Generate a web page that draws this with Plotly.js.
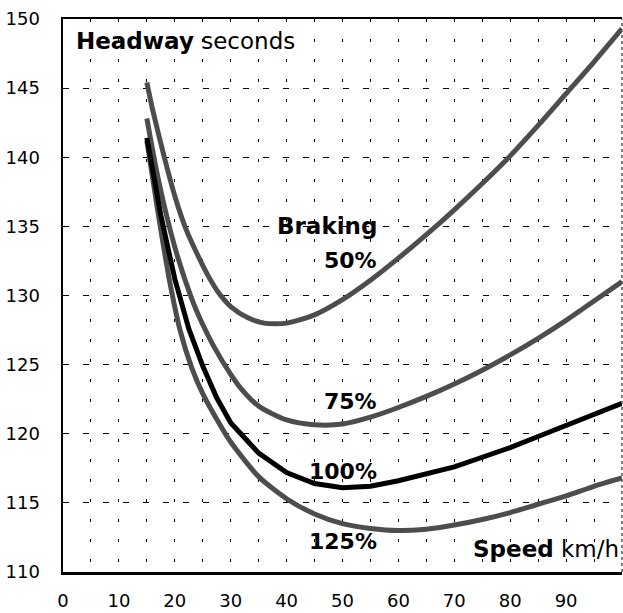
<!DOCTYPE html>
<html>
<head>
<meta charset="utf-8">
<script src="https://cdn.plot.ly/plotly-3.0.1.min.js"></script>
<style>html,body{margin:0;padding:0;background:#fff;}#chart{width:623px;height:613px;}</style>
</head>
<body>
<div id="chart"></div>
<script>
// Speed (km/h) and headway (seconds) for each braking rate
const speed50  = [15,16,18,20,22,24,26,28,30,33,36,40,45,50,55,60,65,70,75,80,85,90,95,100];
const head50   = [145.4,143.5,140.2,137.2,134.8,133.0,131.4,130.1,129.2,128.4,128.0,128.0,128.6,129.7,131.1,132.7,134.4,136.2,138.1,140.1,142.3,144.6,146.9,149.3];

const speed75  = [15,17,20,23,25,27,30,32,35,40,45,50,55,60,65,70,75,80,85,90,95,100];
const head75   = [142.8,138.5,133.5,129.8,127.9,126.3,124.3,123.2,122.0,121.0,120.65,120.7,121.2,121.9,122.7,123.6,124.6,125.7,126.9,128.2,129.6,131.0];

const speed100 = [15,17.5,20,22.5,25,27.5,30,35,40,45,50,55,60,65,70,75,80,85,90,95,100];
const head100  = [141.4,135.8,131.2,127.6,124.9,122.6,120.8,118.6,117.2,116.4,116.1,116.2,116.6,117.1,117.6,118.3,119.0,119.8,120.6,121.4,122.2];

const speed125 = [15,17,19,21,23,25,28,30,35,40,45,50,55,60,65,70,75,80,85,90,95,100];
const head125  = [141.2,136.0,131.2,127.4,124.8,122.9,120.7,119.4,116.9,115.3,114.2,113.5,113.15,113.0,113.1,113.4,113.8,114.3,114.9,115.5,116.2,116.8];

const xTickVals = [0,10,20,30,40,50,60,70,80,90];
const xTickText = ['0','10','20','30','40','50','60','70','80','90'];
const yTickVals = [110,115,120,125,130,135,140,145,150];
const yTickText = ['110','115','120','125','130','135','140','145','150'];

const curveLabels = ['50%','75%','100%','125%'];

const grey = '#4d4d4d';
const traces = [
  {x: speed50,  y: head50,  mode:'lines', line:{color:grey, width:5, shape:'spline', smoothing:0.7}, name: curveLabels[0]},
  {x: speed75,  y: head75,  mode:'lines', line:{color:grey, width:5, shape:'spline', smoothing:0.7}, name: curveLabels[1]},
  {x: speed125, y: head125, mode:'lines', line:{color:grey, width:5, shape:'spline', smoothing:0.7}, name: curveLabels[3]},
  {x: speed100, y: head100, mode:'lines', line:{color:'#000', width:5}, name: curveLabels[2]}
];

const F = 'DejaVu Sans, Arial, sans-serif';
const ann = (x, y, text, xanchor, size) => ({
  x: x, y: y, xref:'x', yref:'y', text: text, showarrow:false,
  xanchor: xanchor, yanchor:'middle', font:{family:F, size:size, color:'#000'}
});

const layout = {
  width: 623, height: 613,
  margin: {l:63, r:1, t:19, b:41, pad:0},
  paper_bgcolor:'#fff', plot_bgcolor:'#fff',
  showlegend:false,
  font:{family:F, color:'#000'},
  xaxis: {
    range:[0,100], tickvals:xTickVals, ticktext:xTickText,
    showgrid:true, gridcolor:'#000', gridwidth:1, griddash:'3px,17px',
    minor:{dtick:5, tick0:0, showgrid:true, gridcolor:'#000', gridwidth:1, griddash:'3px,17px'},
    showline:true, linecolor:'#000', linewidth:2.5, mirror:true,
    ticks:'', ticklabelstandoff:11, zeroline:false, automargin:false,
    tickfont:{family:F, size:18, color:'#000'}
  },
  yaxis: {
    range:[110,150], tickvals:yTickVals, ticktext:yTickText,
    showgrid:true, gridcolor:'#000', gridwidth:1, griddash:'6px,14px',
    showline:true, linecolor:'#000', linewidth:2.5, mirror:false,
    ticks:'', ticklabelstandoff:17, zeroline:false, automargin:false,
    tickfont:{family:F, size:18, color:'#000'}
  },
  shapes: [
    {type:'line', xref:'paper', yref:'paper', x0:1, x1:1, y0:0, y1:1, line:{color:'#555', width:1.5, dash:'dot'}}
  ],
  annotations: [
    ann(1.9, 148.4, '<b>Headway</b> seconds', 'left', 23),
    ann(99.8, 111.7, '<b>Speed</b> km/h', 'right', 23),
    ann(56.6, 135.0, '<b>Braking</b>', 'right', 23),
    ann(56.6, 132.5, '<b>' + curveLabels[0] + '</b>', 'right', 22),
    ann(56.6, 122.3, '<b>' + curveLabels[1] + '</b>', 'right', 22),
    ann(56.6, 117.25, '<b>' + curveLabels[2] + '</b>', 'right', 22),
    ann(56.6, 112.2, '<b>' + curveLabels[3] + '</b>', 'right', 22)
  ]
};

Plotly.newPlot('chart', traces, layout, {staticPlot:true, displayModeBar:false});
</script>
</body>
</html>
